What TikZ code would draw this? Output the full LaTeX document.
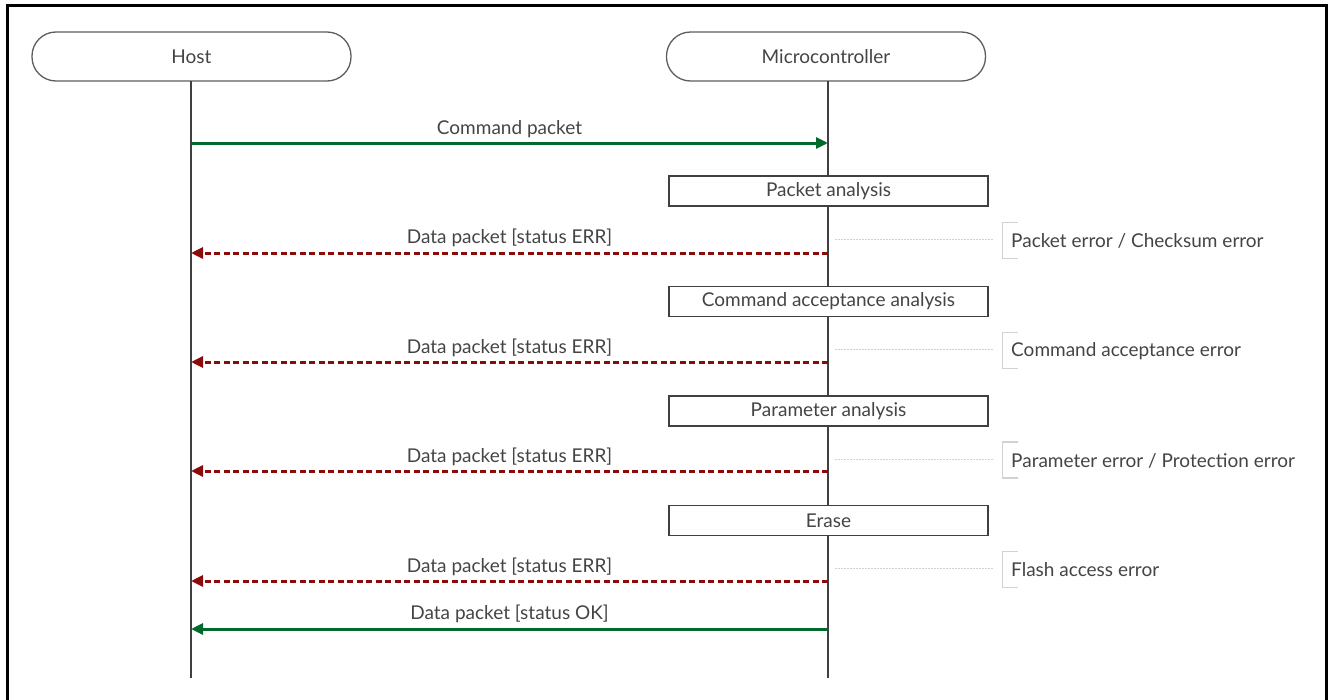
\documentclass[tikz,border=0pt]{standalone}
\usepackage{fontspec}
\setmainfont{Lato}
\usetikzlibrary{arrows.meta}
\definecolor{txt}{HTML}{444444}
\definecolor{lline}{HTML}{404040}
\definecolor{okgreen}{HTML}{006A2C}
\definecolor{errred}{HTML}{8B0A0A}
\definecolor{notegray}{HTML}{D2D2D2}
\tikzset{
  lbl/.style={text=txt, font=\fontsize{19}{22}\selectfont},
  actor/.style={lbl, draw=lline!85, line width=1.3pt, rounded corners=24pt, minimum width=319pt, minimum height=49pt, inner sep=0pt},
  procbox/.style={lbl, draw=lline, line width=1.2pt, minimum width=319pt, minimum height=30pt, inner sep=0pt},
  lifeline/.style={draw=lline, line width=1.5pt},
  okmsg/.style={draw=okgreen, line width=3pt, -{Triangle[length=12pt,width=11pt]}},
  errmsg/.style={draw=errred, line width=3pt, dash pattern=on 6pt off 3.5pt, -{Triangle[length=12pt,width=11pt]}},
  msglabel/.style={lbl, inner sep=0pt},
  notetext/.style={lbl, inner sep=0pt, anchor=west},
  guide/.style={draw=notegray, line width=0.8pt, dash pattern=on 2pt off 1pt},
  bracket/.style={draw=notegray, line width=1.3pt}
}
\begin{document}
\begin{tikzpicture}[x=1pt,y=-1pt]
\useasboundingbox (0,0) rectangle (1328,699);
% frame
\draw[line width=3pt] (7.5,705) -- (7.5,5.5) -- (1326.5,5.5) -- (1326.5,705);
% actors
\node[actor] (host) at (191.5,56.5) {Host};
\node[actor] (mcu) at (826,56.5) {Microcontroller};
\coordinate (hostend) at (191,678);
\coordinate (mcuend) at (828,678);
\draw[lifeline] (191,81) -- (hostend);
\draw[lifeline] (828,81) -- (mcuend);
% coordinates on lifelines
\coordinate (h1) at (191,143); \coordinate (m1) at (828,143);
\coordinate (h2) at (191,253); \coordinate (m2) at (828,253);
\coordinate (h3) at (191,362); \coordinate (m3) at (828,362);
\coordinate (h4) at (191,471); \coordinate (m4) at (828,471);
\coordinate (h5) at (191,581); \coordinate (m5) at (828,581);
\coordinate (h6) at (191,629); \coordinate (m6) at (828,629);
% command packet
\draw[okmsg] (h1) -- (m1);
\node[msglabel] (l1) at (509.5,129) {Command packet};
% process boxes
\node[procbox, fill=white] (pa) at (828.5,191) {Packet analysis};
\node[procbox, fill=white] (ca) at (828.5,301.5) {Command acceptance analysis};
\node[procbox, fill=white] (pr) at (828.5,411) {Parameter analysis};
\node[procbox, fill=white] (er) at (828.5,520.5) {Erase};
% error messages
\draw[errmsg] (m2) -- (h2);
\node[msglabel] (l2) at (509.5,238) {Data packet [status ERR]};
\draw[errmsg] (m3) -- (h3);
\node[msglabel] (l3) at (509.5,348) {Data packet [status ERR]};
\draw[errmsg] (m4) -- (h4);
\node[msglabel] (l4) at (509.5,457) {Data packet [status ERR]};
\draw[errmsg] (m5) -- (h5);
\node[msglabel] (l5) at (509.5,567) {Data packet [status ERR]};
% ok
\draw[okmsg] (m6) -- (h6);
\node[msglabel] (l6) at (509.5,614) {Data packet [status OK]};
% notes
\foreach \y/\t/\n in {240.5/{Packet error / Checksum error}/n1, 350.5/{Command acceptance error}/n2, 460/{Parameter error / Protection error}/n3, 569.5/{Flash access error}/n4}{
  \coordinate (\n g) at (835,\y-1);
  \coordinate (\n b) at (993,\y-1);
  \draw[guide] (\n g) -- (\n b);
  \draw[bracket] (1018,\y-18) -- (1002.5,\y-18) -- (1002.5,\y+18) -- (1018,\y+18);
  \node[notetext] (\n) at (1011,\y+0.5) {\t};
}
\end{tikzpicture}
\end{document}
